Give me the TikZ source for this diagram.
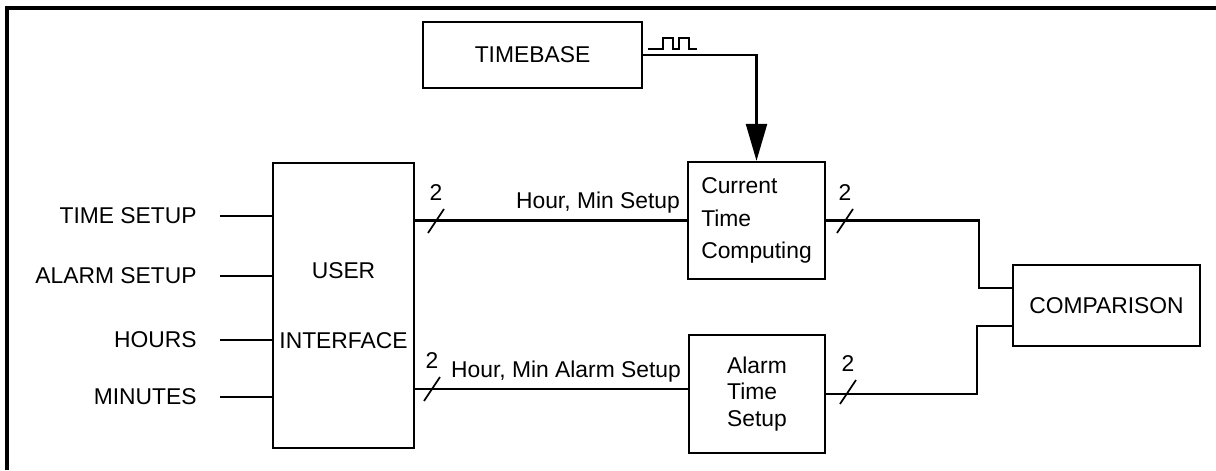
\documentclass[tikz,border=0pt]{standalone}
\usepackage{fontspec}
\setmainfont{Liberation Sans}
\usetikzlibrary{arrows.meta}
\tikzstyle{block} = [
    rectangle,
    draw=black,
    line width=1.3pt,
    align=center
]
\tikzstyle{inlabel} = [
    anchor=east,
    inner xsep=0.46cm
]
\tikzstyle{wire} = [line width=1.3pt]
\tikzstyle{busmark} = [line width=1pt]
\tikzstyle{arrow} = [wire, -{Triangle[length=0.74cm, width=0.42cm]}]

\begin{document}
\begin{tikzpicture}[x=0.02cm, y=-0.02cm, font=\fontsize{13}{16}\selectfont]

\useasboundingbox (0,0) rectangle (1216,470);
\draw [line width=2pt] (7,470) -- (7,8) -- (1216,8);

\node (tb) [block, minimum width=4.38cm, minimum height=1.32cm] at (532.5,55) {TIMEBASE};

\node (ui) [block, minimum width=2.82cm, minimum height=5.7cm,
    font=\fontsize{13}{40}\selectfont] at (343.5,305.5) {USER\\INTERFACE};

\node (ctc) [block, minimum width=2.74cm, minimum height=2.34cm, align=left,
    font=\fontsize{13}{18.7}\selectfont] at (756.5,220.5) {Current\\Time\\Computing};

\node (ats) [block, minimum width=2.72cm, minimum height=2.36cm, align=left,
    font=\fontsize{13}{15}\selectfont] at (757,394) {Alarm\\Time\\Setup};

\node (cmp) [block, minimum width=3.74cm, minimum height=1.62cm] at (1106.5,305.5) {COMPARISON};

% inputs of the user interface
\node (tset) [inlabel] at (220,216) {TIME SETUP};
\node (aset) [inlabel] at (220,276) {ALARM SETUP};
\node (hrs) [inlabel] at (220,340) {HOURS};
\node (mins) [inlabel] at (220,397) {MINUTES};

\draw [wire] (tset.east) -- (tset.east -| ui.west);
\draw [wire] (aset.east) -- (aset.east -| ui.west);
\draw [wire] (hrs.east) -- (hrs.east -| ui.west);
\draw [wire] (mins.east) -- (mins.east -| ui.west);

% clock from the timebase
\coordinate (clk) at (648,49);
\draw [busmark] (clk) -- ++(15,0) -- ++(0,-11) -- ++(10,0) -- ++(0,11) -- ++(6,0)
    -- ++(0,-11) -- ++(10,0) -- ++(0,11) -- ++(8,0);
\draw [arrow] (tb.east) -| (ctc.north);

% buses
\draw [wire] (ui.east |- ctc.west) -- (ctc.west)
    node [pos=1, above left] {Hour, Min Setup};
\draw [wire] ([yshift=0.1cm]ats.west -| ui.east) -- ([yshift=0.1cm]ats.west)
    node [pos=1, above left] {Hour, Min Alarm Setup};

\coordinate (jt) at (979,0);
\coordinate (jb) at (977,0);
\draw [wire] (ctc.east) -- (ctc.east -| jt) |- ([yshift=0.35cm]cmp.west);
\draw [wire] (ats.east) -- (ats.east -| jb) |- ([yshift=-0.41cm]cmp.west);

% bus width marks
\coordinate (b1) at (436,221);
\coordinate (b2) at (432,389);
\coordinate (b3) at (845,221);
\coordinate (b4) at (848,392);
\foreach \b in {b1,b2,b3,b4} {
    \draw [busmark] (\b) ++(-8,12) -- ++(16,-24);
    \node (n\b) at ([yshift=0.56cm]\b) {2};
}

\end{tikzpicture}
\end{document}
